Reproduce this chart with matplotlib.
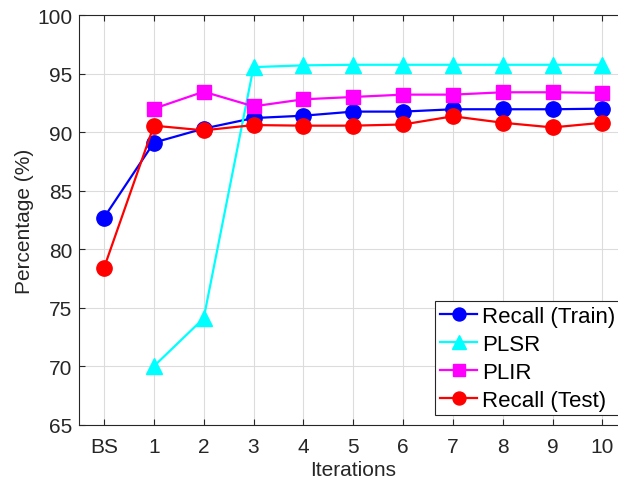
import matplotlib.pyplot as plt

plt.rcParams['font.family'] = ['Liberation Sans', 'DejaVu Sans']

# x positions: BS then iterations 1..10
iters = ['BS', '1', '2', '3', '4', '5', '6', '7', '8', '9', '10']
x = list(range(len(iters)))

recall_train = [82.7, 89.1, 90.3, 91.2, 91.4, 91.75, 91.75, 91.95, 91.95, 91.95, 92.0]
plsr = [None, 70.0, 74.1, 95.55, 95.7, 95.75, 95.75, 95.75, 95.75, 95.75, 95.75]
plir = [None, 92.0, 93.45, 92.2, 92.8, 93.0, 93.2, 93.2, 93.4, 93.4, 93.35]
recall_test = [78.4, 90.55, 90.15, 90.6, 90.55, 90.55, 90.65, 91.35, 90.8, 90.4, 90.8]

dark = '#262626'

fig = plt.figure(figsize=(6.18, 4.85), dpi=100)
ax = fig.add_axes([0.128, 0.122, 0.887, 0.845])

ax.plot(x, recall_train, '-o', color='blue', lw=1.6, ms=11, label='Recall (Train)')
ax.plot(x[1:], plsr[1:], '-^', color='cyan', lw=1.6, ms=12, label='PLSR')
ax.plot(x[1:], plir[1:], '-s', color='magenta', lw=1.6, ms=10, label='PLIR')
ax.plot(x, recall_test, '-o', color='red', lw=1.6, ms=11, label='Recall (Test)')

ax.set_xlim(-0.5, 10.5)
ax.set_ylim(65, 100)
ax.set_xticks(x)
ax.set_xticklabels(iters)
ax.set_yticks(range(65, 101, 5))

ax.grid(True, color='#dcdcdc', lw=0.8)
ax.set_axisbelow(True)
for s in ax.spines.values():
    s.set_color(dark)
    s.set_linewidth(0.8)
ax.tick_params(direction='in', length=4, width=0.8, colors=dark, labelsize=15,
               top=True, right=True)
ax.tick_params(axis='x', pad=9)
ax.tick_params(axis='y', pad=5)

ax.set_xlabel('Iterations', fontsize=15, color=dark, labelpad=3)
ax.set_ylabel('Percentage (%)', fontsize=15, color=dark, labelpad=2)

leg = ax.legend(loc='lower right', bbox_to_anchor=(620 / 618, 69 / 485),
                bbox_transform=fig.transFigure, fontsize=16, fancybox=False,
                framealpha=1, edgecolor=dark, borderaxespad=0, borderpad=0.2,
                labelspacing=0.31, handlelength=1.7, handletextpad=0.22,
                markerscale=0.85)
leg.get_frame().set_linewidth(0.8)

fig.savefig('out.png', dpi=100)
